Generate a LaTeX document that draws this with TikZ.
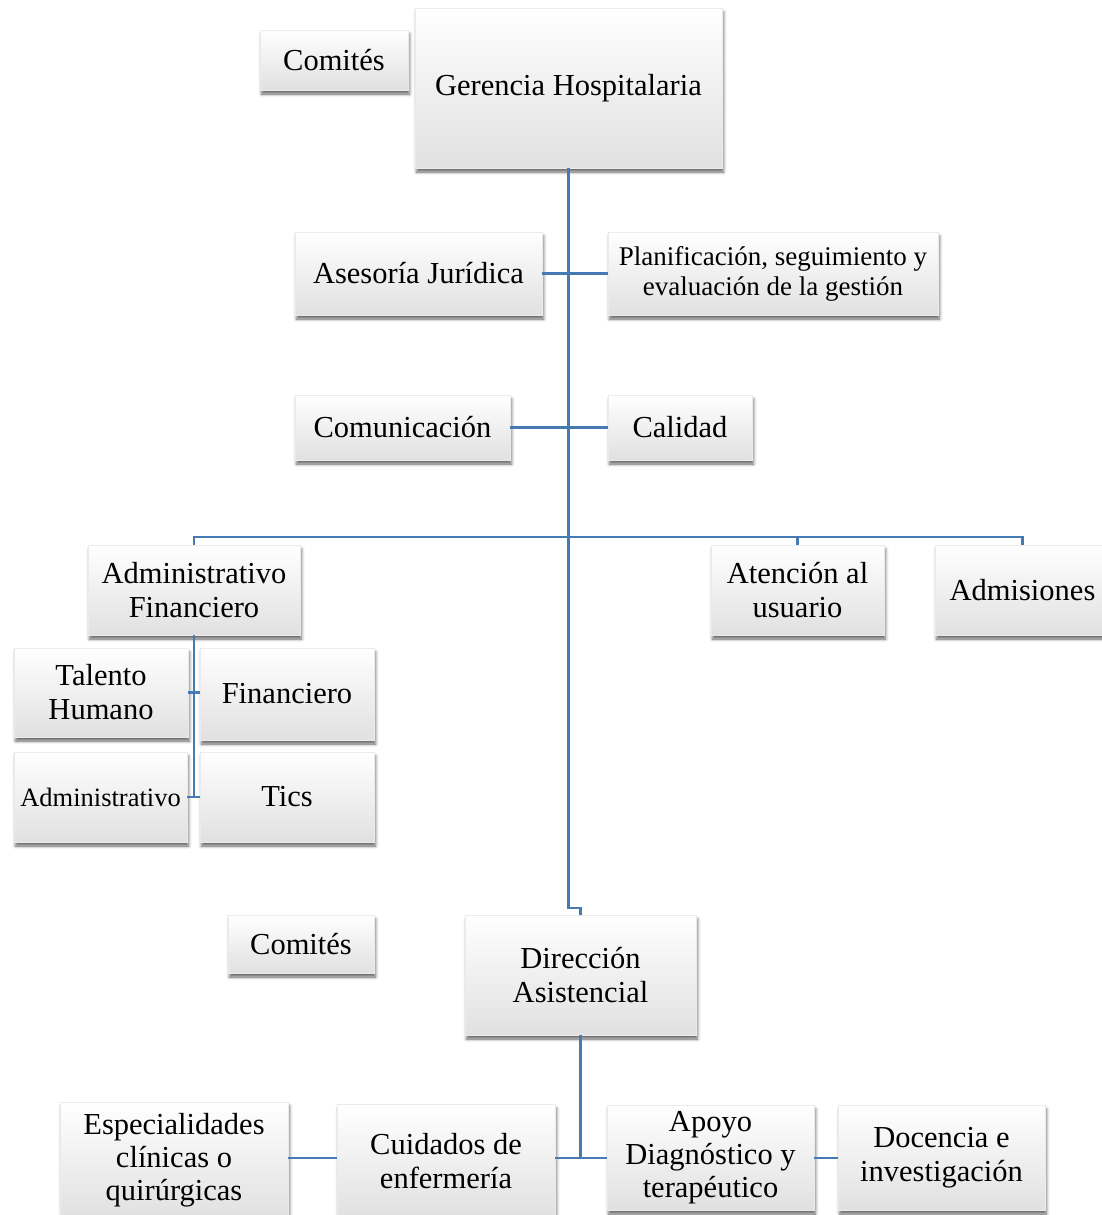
\documentclass[tikz,border=0pt]{standalone}
\usepackage{fontspec}
\setmainfont{Liberation Serif}
\usetikzlibrary{shadows.blur}
\definecolor{linkblue}{RGB}{70,122,178}
\begin{document}
\begin{tikzpicture}[x=1pt,y=-1pt,
  box/.style={draw=black!8, line width=0.6pt, top color=white, bottom color=black!12,
    inner sep=0pt, align=center, font=\fontsize{30.5}{34}\selectfont,
    blur shadow={shadow xshift=1.5pt, shadow yshift=-4pt, shadow blur radius=3pt, shadow opacity=60}},
  link/.style={draw=linkblue, line width=2.4pt}]
\useasboundingbox (0,0) rectangle (1102,1215);
% top level
\node[box, minimum width=148pt, minimum height=60pt] (com1) at (334,60) {Comités};
\node[box, minimum width=307pt, minimum height=160pt] (ger) at (568.5,88) {Gerencia Hospitalaria};
\node[box, minimum width=247pt, minimum height=83pt] (ase) at (418.5,273.5) {Asesoría Jurídica};
\node[box, minimum width=330pt, minimum height=83pt, font=\fontsize{27}{30}\selectfont] (pla) at (773,273.5) {Planificación, seguimiento y\\evaluación de la gestión};
\node[box, minimum width=215pt, minimum height=65pt] (comu) at (402.5,427.5) {Comunicación};
\node[box, minimum width=144pt, minimum height=65pt] (cal) at (680,427.5) {Calidad};
% third level
\node[box, minimum width=212pt, minimum height=90pt] (adf) at (194,590) {Administrativo\\Financiero};
\node[box, minimum width=173pt, minimum height=90pt] (ate) at (797.5,590) {Atención al\\usuario};
\node[box, minimum width=175pt, minimum height=90pt] (adm) at (1022.5,590) {Admisiones};
\node[box, minimum width=174pt, minimum height=89pt] (tal) at (101,692.5) {Talento\\Humano};
\node[box, minimum width=174pt, minimum height=92pt] (fin) at (287,694) {Financiero};
\node[box, minimum width=173pt, minimum height=90pt, font=\fontsize{26.5}{30}\selectfont] (adv) at (100.5,797) {Administrativo};
\node[box, minimum width=174pt, minimum height=90pt] (tic) at (287,797) {Tics};
% direccion asistencial
\node[box, minimum width=146pt, minimum height=58pt] (com2) at (301,944) {Comités};
\node[box, minimum width=231pt, minimum height=120pt] (dir) at (580.5,975) {Dirección\\Asistencial};
\node[box, minimum width=228pt, minimum height=116pt, font=\fontsize{30.5}{33}\selectfont] (esp) at (174,1160) {Especialidades\\clínicas o\\quirúrgicas};
\node[box, minimum width=218pt, minimum height=113pt] (cui) at (446,1161) {Cuidados de\\enfermería};
\node[box, minimum width=207pt, minimum height=105pt, font=\fontsize{30.5}{33}\selectfont] (apo) at (710.5,1157.5) {Apoyo\\Diagnóstico y\\terapéutico};
\node[box, minimum width=207pt, minimum height=105pt] (doc) at (941.5,1157.5) {Docencia e\\investigación};
% connectors
\coordinate (bus) at (568.5,537);
\coordinate (jog) at (568.5,908);
\coordinate (jn) at (580.5,1158);
\draw[link] (ger.south) -- (jog) -| (dir.north);
\draw[link] (ase.east) -- (pla.west);
\draw[link] (comu.east) -- (cal.west);
\draw[link] (adf.north) |- (bus) -| (adm.north);
\draw[link] (bus) -| (ate.north);
\draw[link] (adf.south) -- (adf.south |- adv.east);
\draw[link] (tal.east) -- (tal.east -| fin.west);
\draw[link] (adv.east) -- (tic.west);
\draw[link] (dir.south) -- (jn);
\draw[link] (jn -| cui.east) -- (jn -| apo.west);
\draw[link] (jn -| esp.east) -- (jn -| cui.west);
\draw[link] (jn -| apo.east) -- (jn -| doc.west);
\end{tikzpicture}
\end{document}
